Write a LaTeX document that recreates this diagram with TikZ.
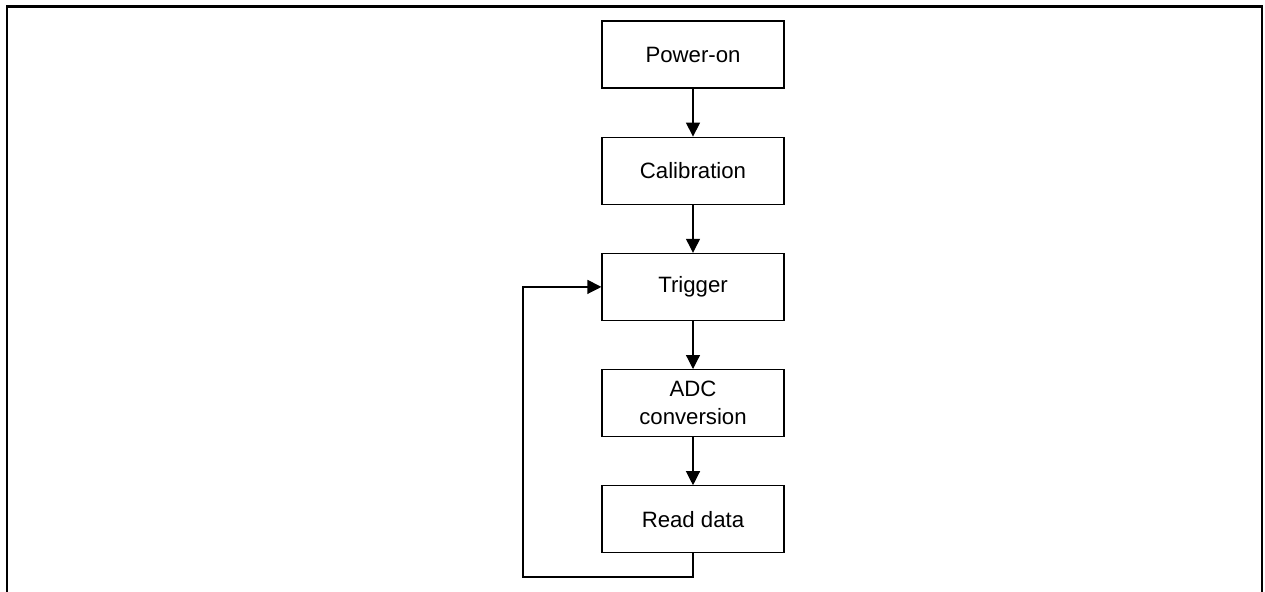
\documentclass[tikz,border=0pt]{standalone}
\usepackage{fontspec}
\setmainfont{Liberation Sans}
\usetikzlibrary{arrows.meta,positioning}

\begin{document}
\begin{tikzpicture}[
    x=1pt, y=1pt,
    node distance=24pt,
    every node/.style={font=\fontsize{11.1}{14}\selectfont, align=center},
    stepbox/.style={
      rectangle, draw, line width=0.6pt,
      minimum width=91pt, minimum height=33.5pt,
      inner sep=2pt
    },
    arrow/.style={-{Triangle[length=7pt, width=7pt]}, line width=0.6pt},
  ]
  \useasboundingbox (0,0) rectangle (632.5,-295.5);

  % --- Frame (open at the bottom) ---
  \draw[line width=1.1pt] (3.5,-300) -- (3.5,-3.25) -- (631,-3.25) -- (631,-300);

  % --- Nodes ---
  \node[stepbox] (poweron) at (346.5,-27.25) {Power-on};
  \node[stepbox, below=of poweron] (calib) {Calibration};
  \node[stepbox, below=of calib] (trigger) {Trigger};
  \node[stepbox, below=of trigger] (adc) {ADC\\conversion};
  \node[stepbox, below=of adc] (readdata) {Read data};

  % --- Loop corner ---
  \coordinate (loopleft) at (261.5,-288.5);

  % --- Arrows ---
  \draw[arrow] (poweron) -- (calib);
  \draw[arrow] (calib) -- (trigger);
  \draw[arrow] (trigger) -- (adc);
  \draw[arrow] (adc) -- (readdata);
  \draw[arrow] (readdata.south) |- (loopleft) |- (trigger.west);
\end{tikzpicture}
\end{document}
